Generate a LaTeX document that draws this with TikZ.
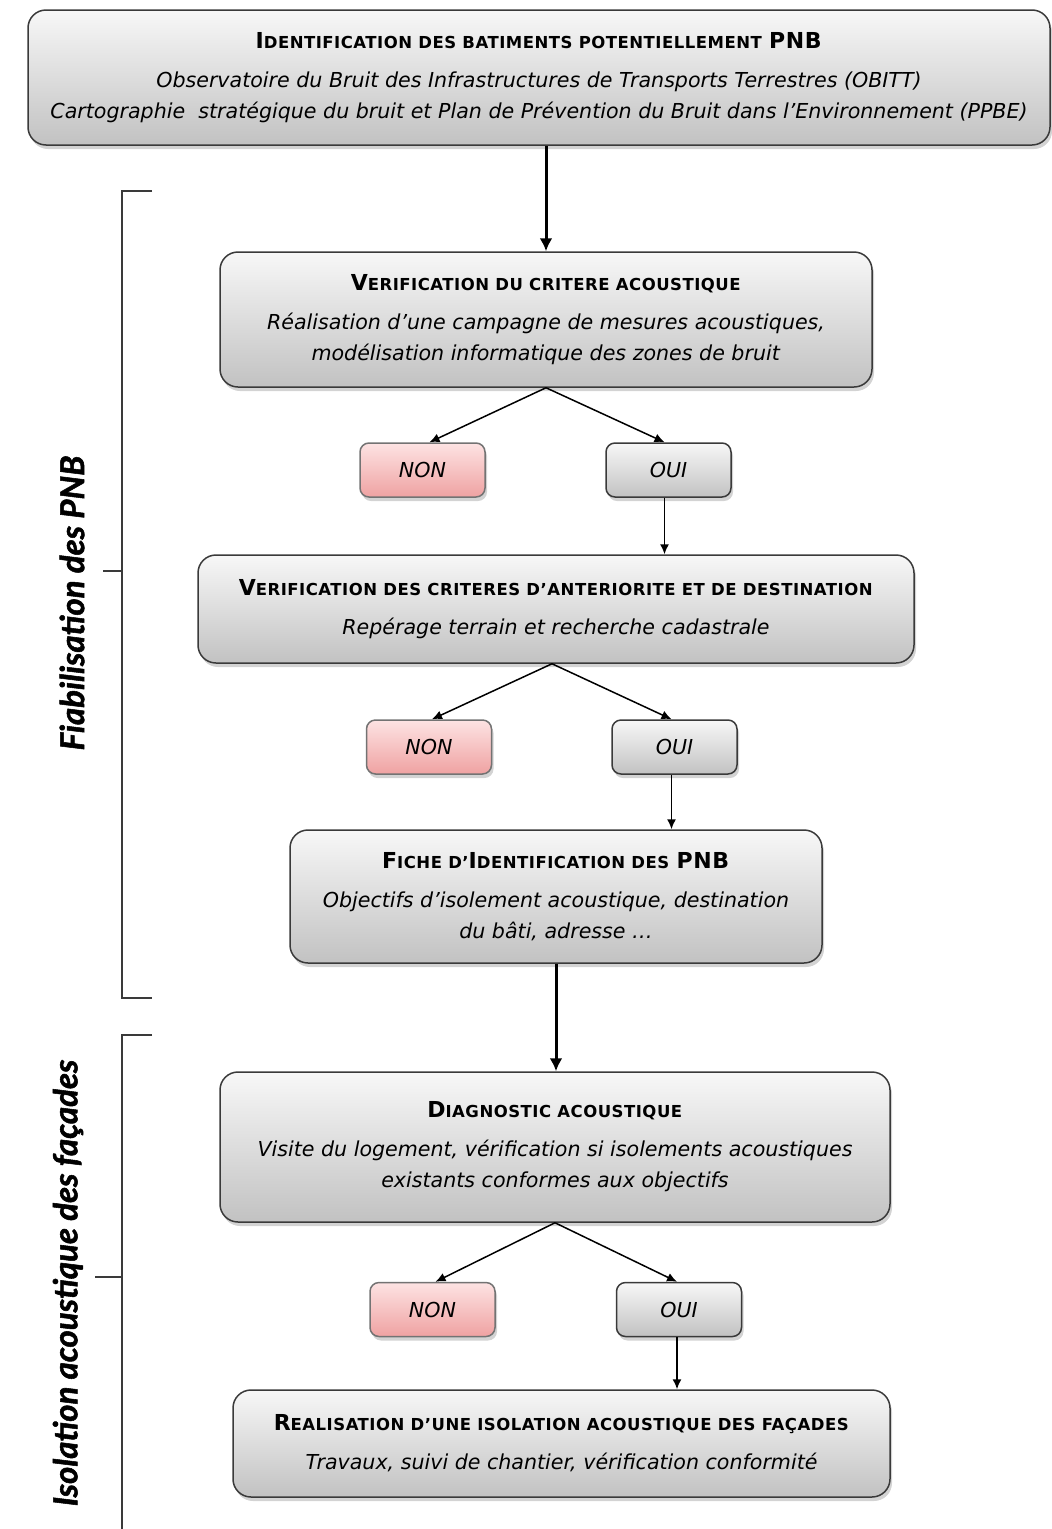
\documentclass[tikz,border=0pt]{standalone}
\usepackage{fontspec}
\setmainfont{DejaVu Sans}
\newfontfamily\labfont{Lato}
\usetikzlibrary{shadows,arrows.meta,calc}
\definecolor{bd}{HTML}{3A3A3A}
\definecolor{pinktop}{HTML}{FDE3E3}
\definecolor{pinkbot}{HTML}{EFA2A2}
\newcommand\Bg[1]{{\fontsize{22}{30}\selectfont\addfontfeature{LetterSpace=3}#1}}
\newcommand\Sm[1]{{\fontsize{16.5}{30}\selectfont\addfontfeature{LetterSpace=3}#1}}
\tikzset{
  box/.style={draw=bd, line width=1.5pt, rounded corners=18pt,
    top color=black!3, bottom color=black!24,
    drop shadow={shadow xshift=2pt,shadow yshift=-4pt,opacity=0.35},
    align=center, inner sep=0pt, font=\fontsize{20.6}{31}\selectfont},
  yes/.style={box, rounded corners=9pt, minimum width=125pt, minimum height=54pt},
  no/.style={yes, top color=pinktop, bottom color=pinkbot, draw=black!55},
  thick arrow/.style={draw=black, line width=3pt, -{Latex[length=13pt,width=13pt]}},
  thin arrow/.style={draw=black, line width=1.5pt, -{Latex[length=10pt,width=9pt]}},
  brace/.style={draw=bd, line width=1.5pt},
  side/.style={font=\labfont\bfseries\itshape\fontsize{33}{36}\selectfont\addfontfeature{FakeBold=1.6}, rotate=90}
}
\begin{document}
\begin{tikzpicture}[x=1pt,y=-1pt]
\useasboundingbox (0,0) rectangle (1052,1529);

\node[box, minimum width=1022pt, minimum height=135pt] (top) at (539,77.5)
  {\textbf{\Bg{I}\Sm{DENTIFICATION DES BATIMENTS POTENTIELLEMENT} \Bg{PNB}}\\[8pt]
   \textit{Observatoire du Bruit des Infrastructures de Transports Terrestres (OBITT)}\\
   \textit{Cartographie\ \ stratégique du bruit et Plan de Prévention du Bruit dans l’Environnement (PPBE)}};

\node[box, minimum width=652pt, minimum height=135pt] (crit) at (546,319.5)
  {\textbf{\Bg{V}\Sm{ERIFICATION DU CRITERE ACOUSTIQUE}}\\[8pt]
   \textit{Réalisation d’une campagne de mesures acoustiques,}\\
   \textit{modélisation informatique des zones de bruit}};

\node[no] (non1) at (422.5,470) {\textit{NON}};
\node[yes] (oui1) at (668.5,470) {\textit{OUI}};

\node[box, minimum width=716pt, minimum height=108pt] (ante) at (556,609)
  {\textbf{\Bg{V}\Sm{ERIFICATION DES CRITERES D’ANTERIORITE ET DE DESTINATION}}\\[8pt]
   \textit{Repérage terrain et recherche cadastrale}};

\node[no] (non2) at (429,747) {\textit{NON}};
\node[yes] (oui2) at (674.5,747) {\textit{OUI}};

\node[box, minimum width=532pt, minimum height=133pt] (fiche) at (556,896.5)
  {\textbf{\Bg{F}\Sm{ICHE D’}\Bg{I}\Sm{DENTIFICATION DES} \Bg{PNB}}\\[8pt]
   \textit{Objectifs d’isolement acoustique, destination}\\
   \textit{du bâti, adresse …}};

\node[box, minimum width=670pt, minimum height=150pt] (diag) at (555,1147)
  {\textbf{\Bg{D}\Sm{IAGNOSTIC ACOUSTIQUE}}\\[8pt]
   \textit{Visite du logement, vérification si isolements acoustiques}\\
   \textit{existants conformes aux objectifs}};

\node[no] (non3) at (432.5,1309.5) {\textit{NON}};
\node[yes] (oui3) at (679,1309.5) {\textit{OUI}};

\node[box, minimum width=657pt, minimum height=107pt] (real) at (561.5,1443.5)
  {\textbf{\Bg{R}\Sm{EALISATION D’UNE ISOLATION ACOUSTIQUE DES FAÇADES}}\\[8pt]
   \textit{Travaux, suivi de chantier, vérification conformité}};

% connectors
\draw[thick arrow] (crit.north |- top.south) -- (crit.north);
\draw[thin arrow] (crit.south) -- ($(non1.north)+(7,0)$);
\draw[thin arrow] (crit.south) -- ($(oui1.north)+(-4,0)$);
\draw[thin arrow] ($(oui1.south)+(-4,0)$) -- ($(oui1.south |- ante.north)+(-4,0)$);
\draw[thin arrow] ($(ante.south)+(-4,0)$) -- ($(non2.north)+(3,0)$);
\draw[thin arrow] ($(ante.south)+(-4,0)$) -- ($(oui2.north)+(-3,0)$);
\draw[thin arrow] ($(oui2.south)+(-3,0)$) -- ($(oui2.south |- fiche.north)+(-3,0)$);
\draw[thick arrow] (fiche.south) -- (fiche.south |- diag.north);
\draw[thin arrow] (diag.south) -- ($(non3.north)+(3,0)$);
\draw[thin arrow] (diag.south) -- ($(oui3.north)+(-2,0)$);
\draw[thin arrow] ($(oui3.south)+(-2,0)$) -- ($(oui3.south |- real.north)+(-2,0)$);

% side brackets
\coordinate (b1t) at (122,191);
\coordinate (b1b) at (122,998);
\coordinate (b1m) at (122,571);
\draw[brace] ($(b1t)+(30,0)$) -- (b1t) -- (b1b) -- ($(b1b)+(30,0)$);
\draw[brace] (b1m) -- ++(-19,0);
\node[side] (lab1) at (72,603) {Fiabilisation des PNB};

\coordinate (b2t) at (122,1035);
\coordinate (b2b) at (122,1529);
\coordinate (b2m) at (122,1277);
\draw[brace] ($(b2t)+(30,0)$) -- (b2t) -- (b2b);
\draw[brace] (b2m) -- ++(-27,0);
\node[side] (lab2) at (68,1283) {Isolation acoustique des façades};
\end{tikzpicture}
\end{document}
